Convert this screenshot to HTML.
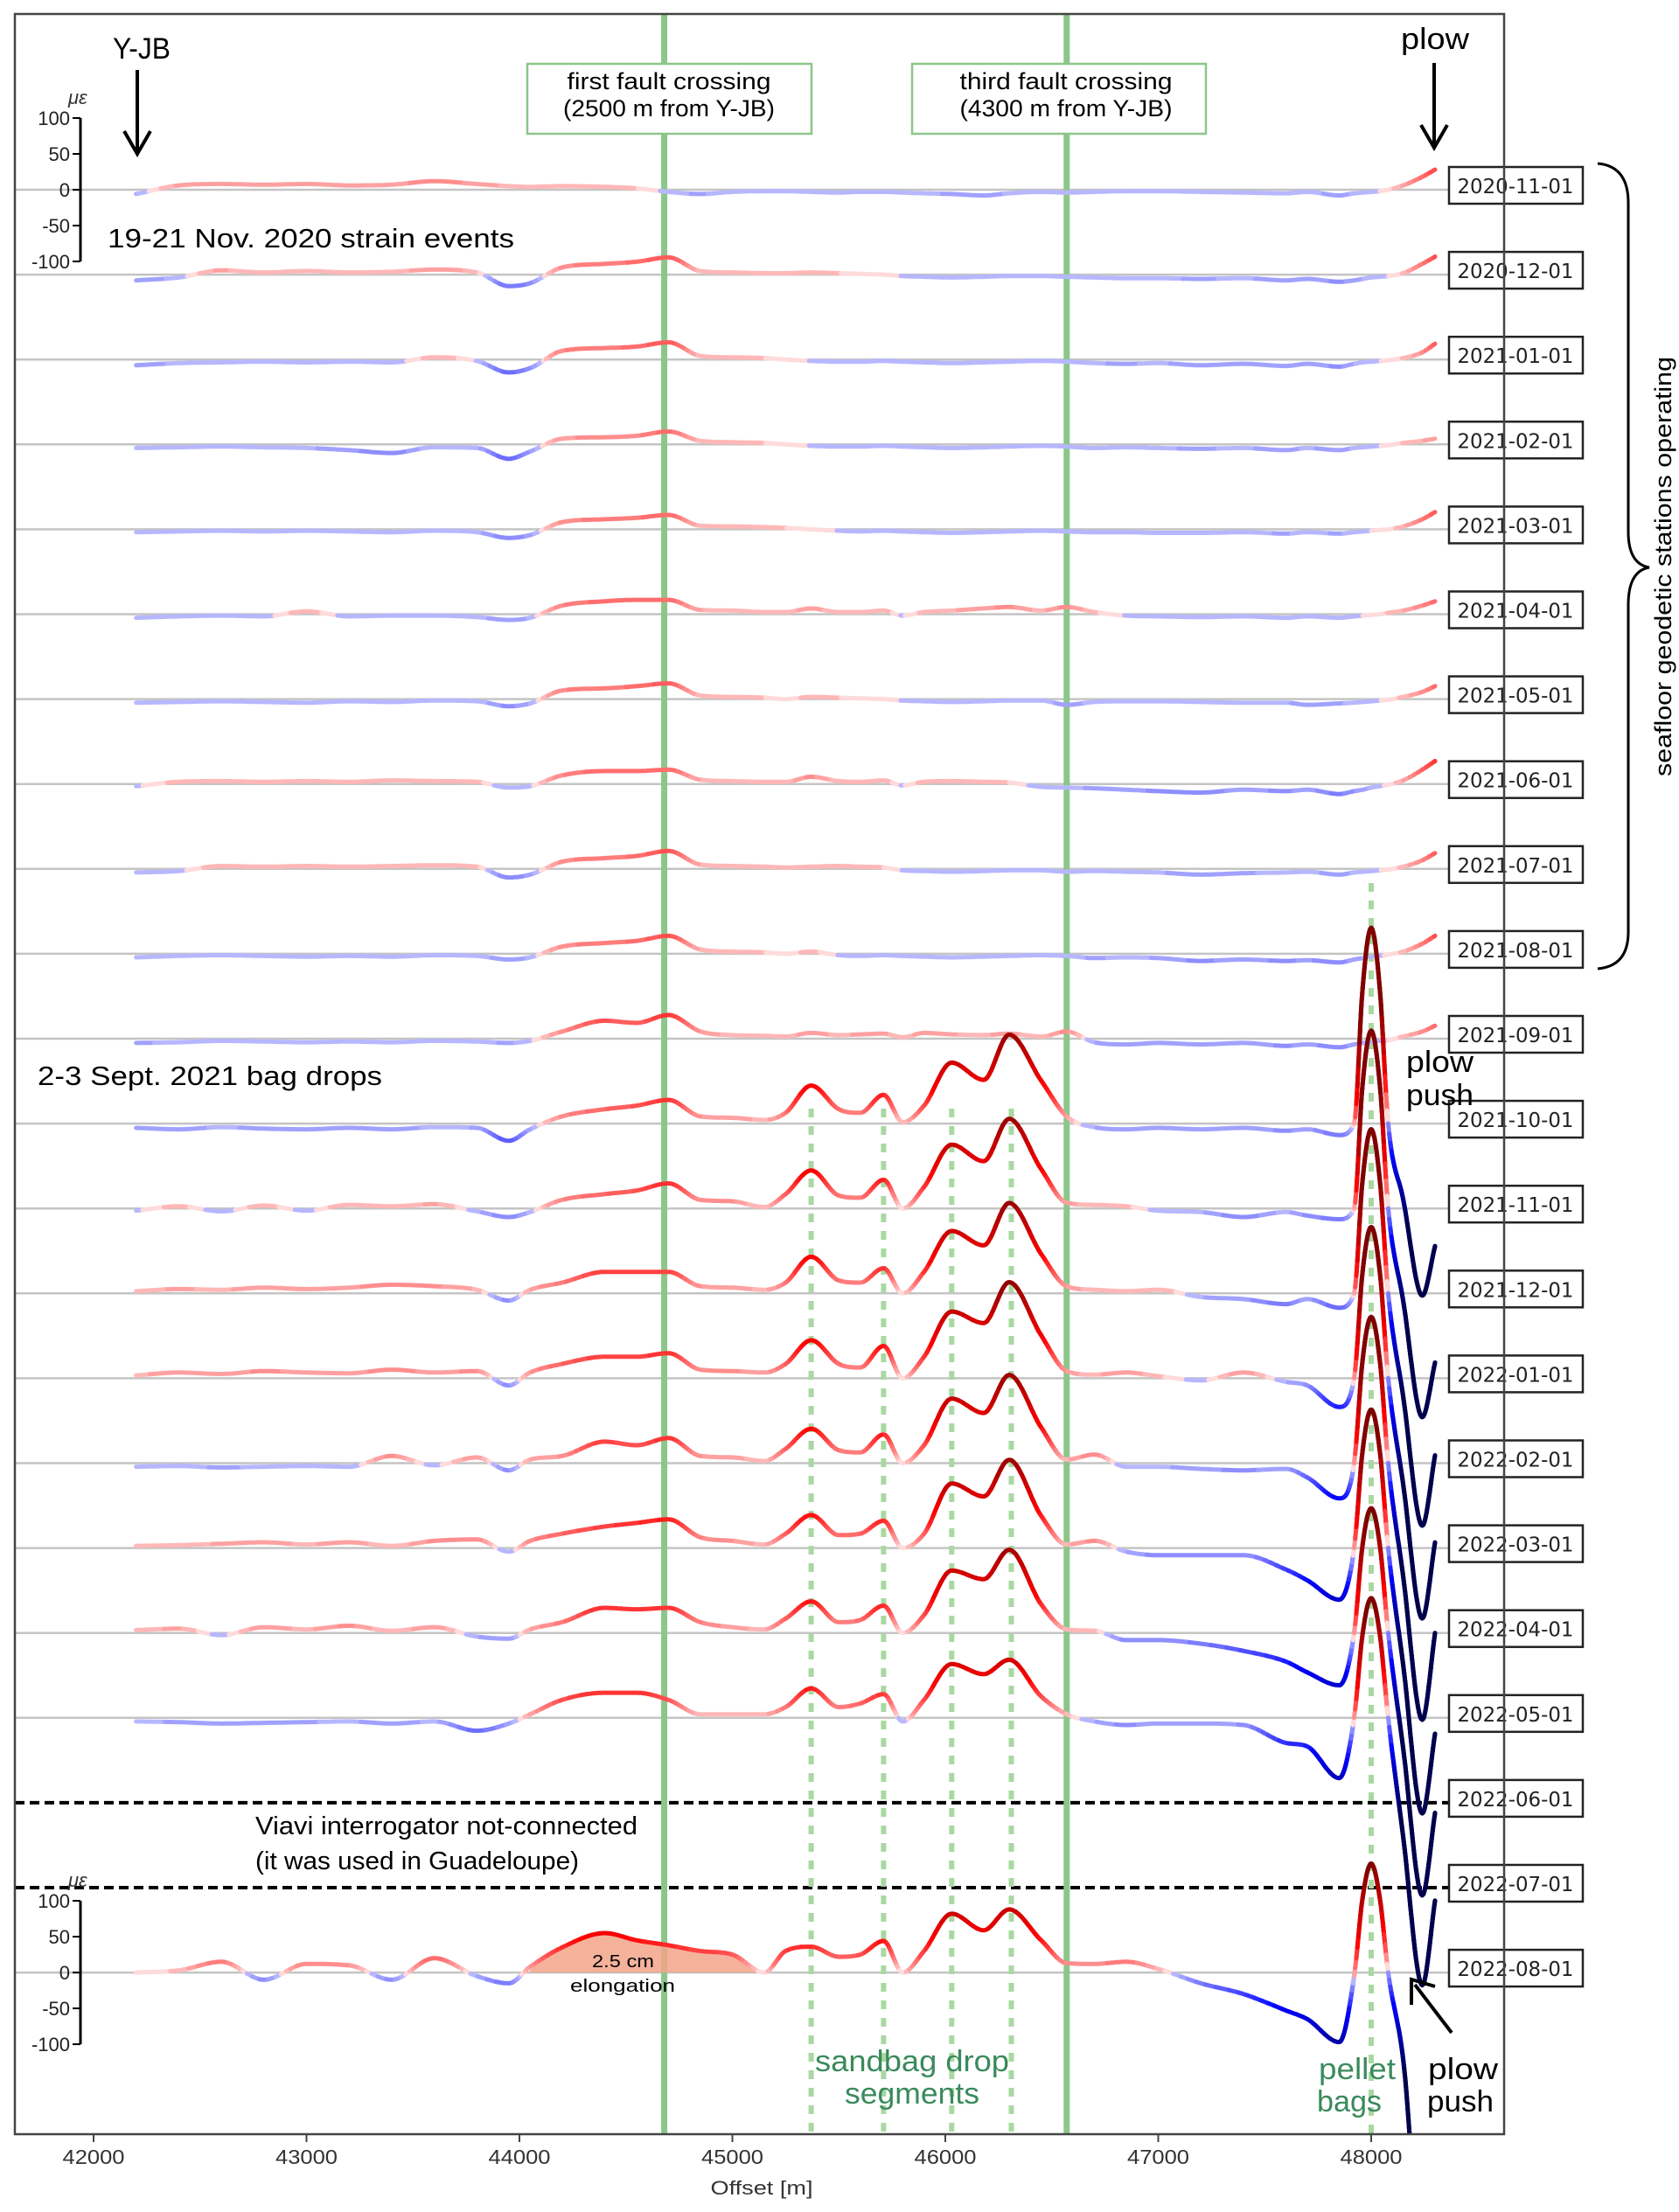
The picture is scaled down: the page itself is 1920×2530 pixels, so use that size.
<!DOCTYPE html>
<html><head><meta charset="utf-8"><title>Strain profiles</title>
<style>
html,body{margin:0;padding:0;background:#fff;}
svg{display:block;font-family:"Liberation Sans",sans-serif;}
</style></head>
<body>
<svg id="chart" xmlns="http://www.w3.org/2000/svg" width="1920" height="2530" viewBox="0 0 1920 2530">
<defs><clipPath id="plotclip"><rect x="17" y="16" width="1703" height="2425"/></clipPath></defs>
<rect x="0" y="0" width="1920" height="2530" fill="#fff"/>
<g id="baselines"></g>
<g id="guides"></g>
<g id="fill" clip-path="url(#plotclip)"></g>
<g id="traces" clip-path="url(#plotclip)"></g>
<g id="labels"></g>
<g id="axes"></g>

<rect x="17" y="16" width="1703" height="2425" fill="none" stroke="#444" stroke-width="2.5"/>

<g>
<rect x="603" y="73" width="325" height="80" fill="#fff" stroke="#8cc68a" stroke-width="2.5"/>
<text x="765" y="102" font-size="27" text-anchor="middle" textLength="233" lengthAdjust="spacingAndGlyphs">first fault crossing</text>
<text x="765" y="133" font-size="27" text-anchor="middle" textLength="242" lengthAdjust="spacingAndGlyphs">(2500 m from Y-JB)</text>
</g>
<g>
<rect x="1043" y="73" width="336" height="80" fill="#fff" stroke="#8cc68a" stroke-width="2.5"/>
<text x="1219" y="102" font-size="27" text-anchor="middle" textLength="243" lengthAdjust="spacingAndGlyphs">third fault crossing</text>
<text x="1219" y="133" font-size="27" text-anchor="middle" textLength="243" lengthAdjust="spacingAndGlyphs">(4300 m from Y-JB)</text>
</g>

<text x="129" y="67" font-size="34" textLength="66" lengthAdjust="spacingAndGlyphs">Y-JB</text>
<g><line x1="157" y1="80" x2="157" y2="172" stroke="#000" stroke-width="4"/><polyline points="142,150 157,176 172,150" fill="none" stroke="#000" stroke-width="4"/></g>
<text x="1602" y="56" font-size="34" textLength="78" lengthAdjust="spacingAndGlyphs">plow</text>
<g><line x1="1640" y1="72" x2="1640" y2="165" stroke="#000" stroke-width="4"/><polyline points="1625,143 1640,169 1655,143" fill="none" stroke="#000" stroke-width="4"/></g>
<text x="123" y="283" font-size="31" textLength="465" lengthAdjust="spacingAndGlyphs">19-21 Nov. 2020 strain events</text>
<text x="43" y="1241" font-size="31" textLength="394" lengthAdjust="spacingAndGlyphs">2-3 Sept. 2021 bag drops</text>
<text x="1608" y="1226" font-size="34" textLength="77" lengthAdjust="spacingAndGlyphs">plow</text>
<text x="1608" y="1264" font-size="34" textLength="77" lengthAdjust="spacingAndGlyphs">push</text>
<text x="292" y="2098" font-size="29" textLength="437" lengthAdjust="spacingAndGlyphs">Viavi interrogator not-connected</text>
<text x="292" y="2138" font-size="29" textLength="370" lengthAdjust="spacingAndGlyphs">(it was used in Guadeloupe)</text>
<text x="677" y="2250" font-size="20" textLength="71" lengthAdjust="spacingAndGlyphs">2.5 cm</text>
<text x="652" y="2278" font-size="20" textLength="120" lengthAdjust="spacingAndGlyphs">elongation</text>
<text x="932" y="2369" font-size="34" fill="#3a8a5c" textLength="222" lengthAdjust="spacingAndGlyphs">sandbag drop</text>
<text x="966" y="2406" font-size="34" fill="#3a8a5c" textLength="154" lengthAdjust="spacingAndGlyphs">segments</text>
<text x="1508" y="2378" font-size="34" fill="#3a8a5c" textLength="88" lengthAdjust="spacingAndGlyphs">pellet</text>
<text x="1506" y="2415" font-size="34" fill="#3a8a5c" textLength="74" lengthAdjust="spacingAndGlyphs">bags</text>
<text x="1633" y="2378" font-size="34" textLength="80" lengthAdjust="spacingAndGlyphs">plow</text>
<text x="1632" y="2415" font-size="34" textLength="76" lengthAdjust="spacingAndGlyphs">push</text>
<g><line x1="1660" y1="2325" x2="1618" y2="2270" stroke="#000" stroke-width="4"/><polyline points="1614,2293 1614,2264 1641,2272" fill="none" stroke="#000" stroke-width="4"/></g>
<path d="M1827,187 Q1862,190 1862,232 L1862,608 Q1862,645 1886,649 Q1862,653 1862,692 L1862,1066 Q1862,1105 1827,1108" fill="none" stroke="#000" stroke-width="3"/>
<text transform="translate(1911,648) rotate(-90)" font-size="27" text-anchor="middle" textLength="480" lengthAdjust="spacingAndGlyphs">seafloor geodetic stations operating</text>
<text x="871" y="2510" font-size="22" text-anchor="middle" fill="#333" textLength="117" lengthAdjust="spacingAndGlyphs">Offset [m]</text>
</svg>

<script>
const offsets=[42200,42400,42600,42800,43000,43200,43400,43600,43800,43950,44050,44200,44400,44550,44700,44850,45000,45150,45250,45370,45500,45600,45710,45800,45900,46030,46180,46300,46450,46570,46700,46850,47000,47200,47400,47600,47700,47850,47920,47960,48000,48040,48080,48150,48240,48300];
const dates=["2020-11-01","2020-12-01","2021-01-01","2021-02-01","2021-03-01","2021-04-01","2021-05-01","2021-06-01","2021-07-01","2021-08-01","2021-09-01","2021-10-01","2021-11-01","2021-12-01","2022-01-01","2022-02-01","2022-03-01","2022-04-01","2022-05-01","2022-06-01","2022-07-01","2022-08-01"];
const row0=[-6,6,8,7,8,6,7,12,8,5,4,5,4,2,-3,-6,-3,-2,-2,-3,-4,-3,-3,-4,-5,-6,-8,-5,-3,-4,-3,-2,-2,-3,-4,-5,-3,-8,-5,-4,-3,-2,0,6,18,28];
const row1=[-8,-4,6,3,5,3,4,7,3,-16,-12,10,15,18,24,5,3,2,2,3,2,1,0,-2,-3,-4,-3,-2,-2,-3,-4,-5,-5,-6,-5,-8,-6,-10,-8,-6,-4,-3,-2,2,15,25];
const row2=[-8,-5,-4,-3,-4,-3,-4,3,-2,-18,-12,12,16,18,24,5,3,2,0,-2,-3,-3,-2,-3,-4,-5,-4,-3,-2,-3,-5,-6,-5,-8,-6,-9,-6,-10,-6,-4,-3,-2,-1,2,10,22];
const row3=[-5,-4,-3,-4,-5,-8,-12,-4,-5,-20,-10,8,10,12,18,5,3,2,0,-2,-3,-3,-2,-3,-4,-5,-4,-3,-2,-3,-5,-4,-5,-6,-5,-8,-5,-8,-5,-4,-3,-2,-1,2,5,8];
const row4=[-4,-3,-2,-3,-2,-3,-4,-2,-4,-12,-8,10,14,16,20,5,4,3,2,0,-2,-3,-2,-3,-4,-5,-4,-3,-2,-3,-4,-4,-5,-5,-4,-6,-4,-6,-4,-3,-2,-1,0,4,14,24];
const row5=[-5,-3,-2,-3,4,-3,-2,-2,-4,-8,-5,12,18,20,20,6,5,3,3,8,3,3,5,-2,3,5,8,10,5,10,3,-2,-3,-4,-3,-5,-3,-5,-3,-2,-1,0,2,5,12,18];
const row6=[-5,-4,-3,-4,-5,-3,-4,-2,-3,-10,-6,12,15,18,22,5,3,2,0,3,2,1,0,-2,-3,-4,-3,-2,-2,-8,-4,-3,-3,-4,-5,-5,-8,-6,-5,-4,-3,-2,-1,3,10,18];
const row7=[-3,3,4,3,4,3,5,4,3,-5,-3,12,18,18,20,6,4,3,3,10,4,3,5,-2,3,4,3,2,-4,-5,-6,-8,-10,-12,-8,-10,-8,-14,-10,-8,-5,-3,-1,5,20,32];
const row8=[-5,-3,4,3,4,3,4,5,3,-12,-8,10,15,18,25,6,4,3,2,3,4,3,2,-2,-3,-4,-3,-2,-2,-4,-3,-4,-5,-8,-6,-5,-4,-8,-5,-4,-3,-2,-1,3,12,22];
const row9=[-5,-3,-2,-3,-4,-3,-4,-2,-3,-8,-5,10,15,18,25,6,3,2,0,3,-2,-3,-2,-3,-4,-5,-4,-3,-2,-3,-6,-5,-6,-10,-8,-10,-9,-12,-8,-6,-4,-3,-1,3,14,25];
const row10=[-6,-5,-3,-4,-5,-4,-5,-3,-4,-6,-3,10,25,22,33,10,5,4,3,8,5,6,7,2,8,6,5,7,3,10,-5,-8,-6,-8,-6,-10,-8,-12,-8,-6,-5,-3,-2,3,10,18];
const row11=[-6,-8,-5,-7,-8,-6,-8,-5,-6,-24,-8,10,20,25,33,10,8,5,15,53,20,15,40,2,25,85,61,124,60,10,-5,-8,-6,-8,-6,-10,-8,-16,0,190,273,190,0,-105,-240,-171];
const row12=[-3,3,-4,4,-3,5,3,6,-4,-12,-5,12,20,25,35,12,10,2,20,53,18,15,40,0,30,89,66,125,55,8,5,3,-3,-5,-12,-5,-10,-15,0,175,248,175,0,-128,-291,-215];
const row13=[3,6,5,8,6,8,12,10,5,-10,5,15,30,30,30,10,8,5,15,51,18,15,35,0,30,87,67,126,55,10,5,3,5,-5,-8,-15,-8,-20,0,160,229,160,0,-143,-324,-226];
const row14=[4,8,6,10,8,7,12,8,10,-10,8,20,30,30,35,12,10,8,20,53,20,15,45,0,30,93,77,134,60,10,5,8,3,-3,8,-5,-10,-40,0,150,211,150,0,-147,-335,-229];
const row15=[-5,-4,-6,-5,-4,-5,10,-3,8,-10,5,10,30,25,35,10,8,3,20,48,18,15,40,0,25,90,70,123,50,5,12,-5,-5,-8,-10,-8,-20,-49,0,145,204,145,0,-157,-358,-237];
const row16=[3,4,6,8,5,8,3,10,12,-5,10,20,30,35,40,15,10,5,20,46,18,20,38,0,20,90,72,123,45,5,10,-5,-10,-10,-10,-30,-45,-72,0,137,193,137,0,-162,-370,-259];
const row17=[4,6,-3,8,5,10,3,8,-5,-8,5,15,35,33,35,15,8,5,20,44,15,18,38,0,25,87,75,116,40,5,3,-10,-10,-15,-25,-40,-55,-73,0,124,174,124,0,-160,-366,-251];
const row18=[-5,-6,-8,-7,-6,-5,-8,-5,-18,-8,5,25,35,35,25,5,5,5,15,41,15,20,33,-5,25,75,61,81,30,5,-5,-10,-8,-8,-10,-35,-40,-84,0,118,167,118,0,-165,-373,-255];
const row21=[0,3,15,-10,12,10,-10,20,-5,-15,8,35,55,45,38,30,25,0,30,36,22,25,44,0,30,82,59,88,45,13,12,15,5,-15,-30,-53,-65,-97,-5,105,152,105,0,-120,-400,-400];
const rows=[row0,row1,row2,row3,row4,row5,row6,row7,row8,row9,row10,row11,row12,row13,row14,row15,row16,row17,row18,null,null,row21];
const xTicks=[42000,43000,44000,45000,46000,47000,48000];
const scaleTicks=[100,50,0,-50,-100];
const faultLines=[44680,46570];
const sandbagLines=[45370,45710,46030,46310];
const pelletLines=[48000];
const fillRange=[44050,45150];

const NS="http://www.w3.org/2000/svg";
function X(m){return 107+(m-42000)*0.2435;}
function base(i){return 217+i*97.1;}
const UE=0.82;
function mk(tag,attrs,parent){const e=document.createElementNS(NS,tag);for(const k in attrs)e.setAttribute(k,attrs[k]);parent.appendChild(e);return e;}

function monotone(xs,ys){
  const n=xs.length,d=[],m=new Array(n);
  for(let i=0;i<n-1;i++)d.push((ys[i+1]-ys[i])/(xs[i+1]-xs[i]));
  m[0]=d[0];m[n-1]=d[n-2];
  for(let i=1;i<n-1;i++){m[i]=(d[i-1]*d[i]<=0)?0:(d[i-1]+d[i])/2;}
  for(let i=0;i<n-1;i++){
    if(d[i]===0){m[i]=0;m[i+1]=0;continue;}
    const a=m[i]/d[i],b=m[i+1]/d[i],s=a*a+b*b;
    if(s>9){const t=3/Math.sqrt(s);m[i]=t*a*d[i];m[i+1]=t*b*d[i];}
  }
  return function(x){
    let i=0;while(i<n-2&&x>xs[i+1])i++;
    const h=xs[i+1]-xs[i],t=(x-xs[i])/h,t2=t*t,t3=t2*t;
    return (2*t3-3*t2+1)*ys[i]+(t3-2*t2+t)*h*m[i]+(-2*t3+3*t2)*ys[i+1]+(t3-t2)*h*m[i+1];
  };
}
function seismic(v){
  let t0=Math.max(-1,Math.min(1,v/150));
  let s=t0<0?-1:1;
  let t=s*Math.min(1,0.07+0.93*Math.pow(Math.abs(t0),0.7));
  let r,g,b;
  if(t>=0){if(t<0.5){r=1;g=b=1-2*t;}else{r=1-(t-0.5);g=b=0;}}
  else{const a=-t;if(a<0.5){r=g=1-2*a;b=1;}else{r=g=0;b=1-(a-0.5)*1.4;}}
  return "rgb("+Math.round(r*255)+","+Math.round(g*255)+","+Math.round(b*255)+")";
}

const gBase=document.getElementById('baselines');
const gGuide=document.getElementById('guides');
const gTr=document.getElementById('traces');
const gFill=document.getElementById('fill');
const gLab=document.getElementById('labels');
const gAx=document.getElementById('axes');

dates.forEach((d,i)=>{
  const y=base(i);
  const dashed=rows[i]===null;
  const ln=mk('line',{x1:17,y1:y,x2:1657,y2:y,stroke:dashed?'#000':'#c4c4c4','stroke-width':dashed?4:2.5},gBase);
  if(dashed)ln.setAttribute('stroke-dasharray','11 6');
  
  
  const g=mk('g',{},gLab);
  
  
  mk('rect',{x:1657,y:y-26,width:153,height:42,fill:'#fff',stroke:'#222','stroke-width':2.5},g);
  const t=mk('text',{x:1733,y:y+4,'font-family':'"DejaVu Sans","Liberation Sans",sans-serif','font-size':23,'text-anchor':'middle',fill:'#222',textLength:133,lengthAdjust:'spacingAndGlyphs'},g);
  t.textContent=d;
});

faultLines.forEach(m=>{
  const l=mk('line',{x1:X(m),y1:17,x2:X(m),y2:2440,stroke:'#8cc68a','stroke-width':7},gGuide);
  
  
});
sandbagLines.forEach(m=>{
  const l=mk('line',{x1:X(m),y1:1268,x2:X(m),y2:2440,stroke:'#a9d8a2','stroke-width':6,'stroke-dasharray':'10 10'},gGuide);
  
  
});
pelletLines.forEach(m=>{
  const l=mk('line',{x1:X(m),y1:1010,x2:X(m),y2:2440,stroke:'#a9d8a2','stroke-width':6,'stroke-dasharray':'10 10'},gGuide);
  
  
});

rows.forEach((vals,i)=>{
  if(!vals)return;
  const f=monotone(offsets,vals);
  const y0=base(i);
  const g=mk('g',{},gTr);
  
  
  if(i===21){
    let pts=[X(fillRange[0])+','+y0];
    for(let m=fillRange[0];m<=fillRange[1];m+=5){pts.push(X(m)+','+(y0-Math.max(0,f(m))*UE));}
    pts.push(X(fillRange[1])+','+y0);
    const p=mk('polygon',{points:pts.join(' '),fill:'#f2a48a','fill-opacity':0.85},gFill);
    
    
  }
  let run=[],runQ=null,prev=null;
  const flush=()=>{
    if(run.length>1){
      const pl=mk('polyline',{points:run.join(' '),fill:'none',stroke:seismic(runQ),'stroke-width':5,'stroke-linecap':'round','stroke-linejoin':'round'},g);
      
      
    }
  };
  for(let m=offsets[0];m<=offsets[offsets.length-1];m+=5){
    const v=f(m);
    const q=Math.round(v/150*40)/40*150;
    const pt=X(m).toFixed(1)+','+(y0-v*UE).toFixed(1);
    if(runQ===null){runQ=q;run=[pt];}
    else if(q!==runQ){run.push(pt);flush();run=[prev,pt];runQ=q;}
    else run.push(pt);
    prev=pt;
  }
  flush();
});

xTicks.forEach(v=>{
  const x=X(v);
  const l=mk('line',{x1:x,y1:2441,x2:x,y2:2450,stroke:'#444','stroke-width':2},gAx);
  
  
  const t=mk('text',{x:x,y:2475,'font-size':23,'text-anchor':'middle',fill:'#333',textLength:71,lengthAdjust:'spacingAndGlyphs'},gAx);
  
  
  t.textContent=v;
});

[0,21].forEach(ri=>{
  const y0=base(ri);
  const g=mk('g',{},gAx);
  
  
  const top=y0-scaleTicks[0]*UE, bot=y0-scaleTicks[scaleTicks.length-1]*UE;
  mk('line',{x1:92,y1:top,x2:92,y2:bot,stroke:'#000','stroke-width':3},g);
  scaleTicks.forEach(v=>{
    const y=y0-v*UE;
    mk('line',{x1:83,y1:y,x2:92,y2:y,stroke:'#000','stroke-width':2},g);
    const t=mk('text',{x:80,y:y+8,'font-size':22,'text-anchor':'end',fill:'#222'},g);
    t.textContent=v;
  });
  const u=mk('text',{x:78,y:top-16,'font-size':22,'font-style':'italic',fill:'#333'},g);
  u.textContent='με';
});
</script>
</body></html>
